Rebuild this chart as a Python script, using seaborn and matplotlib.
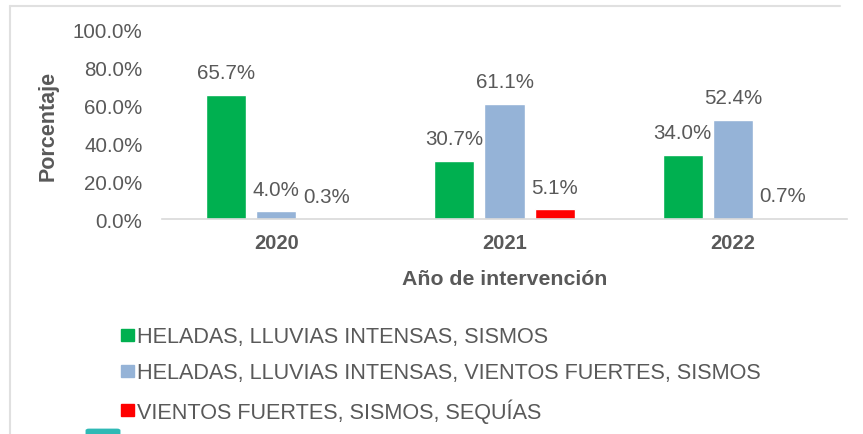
import matplotlib
matplotlib.use("Agg")
import matplotlib.pyplot as plt
from matplotlib.patches import FancyBboxPatch
from matplotlib.lines import Line2D
import seaborn as sns
import pandas as pd

years = ["2020", "2021", "2022"]
series_names = [
    "HELADAS, LLUVIAS INTENSAS, SISMOS",
    "HELADAS, LLUVIAS INTENSAS, VIENTOS FUERTES, SISMOS",
    "VIENTOS FUERTES, SISMOS, SEQUÍAS",
]
heladas_lluvias_sismos = [65.7, 30.7, 34.0]
heladas_lluvias_vientos_sismos = [4.0, 61.1, 52.4]
vientos_sismos_sequias = [0.3, 5.1, 0.7]
colors = ["#00B050", "#95B3D7", "#FF0000"]
yticks = [0, 20, 40, 60, 80, 100]

sns.set_style("white")
plt.rcParams["font.family"] = ["Liberation Sans", "DejaVu Sans"]
TXT = "#595959"
FS = 14.8

rows = []
for name, vals in zip(series_names, [heladas_lluvias_sismos, heladas_lluvias_vientos_sismos, vientos_sismos_sequias]):
    for y, v in zip(years, vals):
        rows.append({"Año": y, "Serie": name, "Valor": v})
df = pd.DataFrame(rows)

fig = plt.figure(figsize=(8.63, 4.35), dpi=100)
ax = fig.add_axes([162/863, 1-220/435, (847-162)/863, (220-31)/435])

sns.barplot(data=df, x="Año", y="Valor", hue="Serie", hue_order=series_names,
            palette=colors, order=years, width=0.66, gap=0.2, ax=ax, legend=False,
            saturation=1, errorbar=None)

for cont in ax.containers:
    ax.bar_label(cont, labels=[f"{v:.1f}%" for v in cont.datavalues], padding=9,
                 fontsize=FS, color=TXT)

ax.set_ylim(0, 100)
ax.set_xlim(-0.5, 2.5)
ax.set_yticks(yticks)
ax.set_yticklabels([f"{t:.1f}%" for t in yticks], fontsize=FS, color=TXT)
ax.tick_params(axis="y", length=0, pad=14)
ax.tick_params(axis="x", length=0, pad=10)
for lab in ax.get_xticklabels():
    lab.set_fontsize(14.5)
    lab.set_fontweight("bold")
    lab.set_color(TXT)
ax.set_xlabel("Año de intervención", fontsize=15.3, fontweight="bold", color=TXT, labelpad=12)
ax.set_ylabel("Porcentaje", fontsize=15.5, fontweight="bold", color=TXT, labelpad=10)
for s in ["top", "right", "left"]:
    ax.spines[s].set_visible(False)
ax.spines["bottom"].set_color("#D9D9D9")
ax.spines["bottom"].set_linewidth(1.2)

handles = [plt.Rectangle((0, 0), 1, 1, color=c) for c in colors]
fig.legend(handles, series_names, loc="upper left", bbox_to_anchor=(101/863, 1-308/435),
           frameon=False, fontsize=15.6, labelcolor=TXT, handlelength=0.6, handleheight=0.5,
           handletextpad=0.15, labelspacing=0.69)

# figure frame lines
fig.add_artist(Line2D([10/863, 10/863], [0, 1-7/435], color="#E0E0E0", lw=1.5))
fig.add_artist(Line2D([10/863, 840/863], [1-7/435, 1-7/435], color="#E0E0E0", lw=1.5))
fig.add_artist(FancyBboxPatch((89/863, -0.01), 28/863, 8/435, boxstyle="round,pad=0.004",
                              transform=fig.transFigure, color="#2FB9B5", lw=0))

fig.savefig("out.png", dpi=100)
